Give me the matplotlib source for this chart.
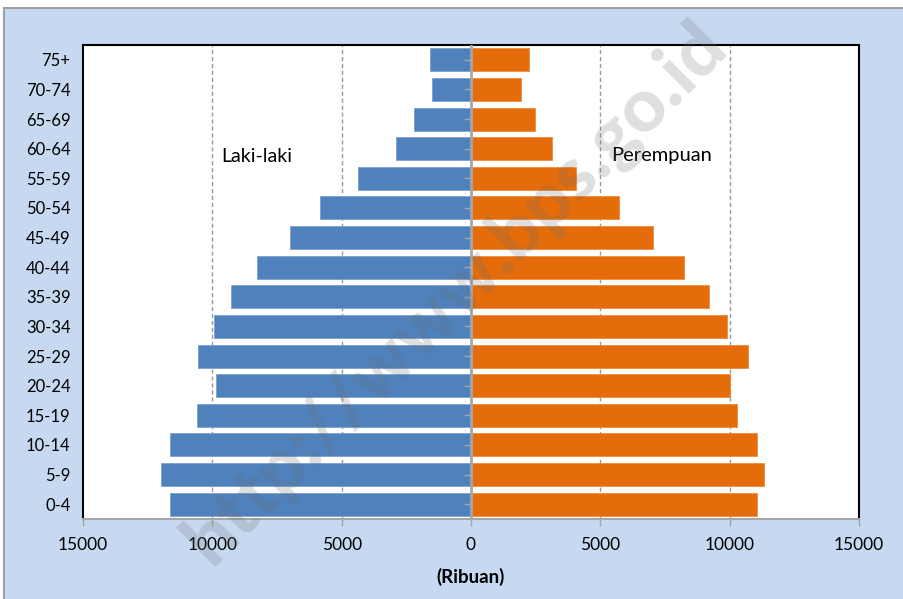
import numpy as np
import matplotlib.pyplot as plt
from matplotlib.patches import Rectangle

plt.rcParams['font.family'] = ['Lato', 'DejaVu Sans']

# kelompok umur, dari bawah ke atas
age_groups = ["0-4", "5-9", "10-14", "15-19", "20-24", "25-29", "30-34", "35-39",
              "40-44", "45-49", "50-54", "55-59", "60-64", "65-69", "70-74", "75+"]
# penduduk (ribuan)
male = [11620, 11970, 11620, 10580, 9840, 10570, 9920, 9290,
        8270, 6990, 5830, 4370, 2890, 2190, 1490, 1570]
female = [11040, 11310, 11040, 10290, 10020, 10700, 9900, 9190,
          8220, 7020, 5710, 4060, 3140, 2490, 1940, 2240]

xticks = [-15000, -10000, -5000, 0, 5000, 10000, 15000]
xtick_labels = ["15000", "10000", "5000", "0", "5000", "10000", "15000"]

fig = plt.figure(figsize=(9.04, 5.99), dpi=100, facecolor="white")
# chart area background with a thin border, like the source screenshot
fig.patches.append(Rectangle((4 / 904, -0.01), 1.0, 1 - 8 / 599 + 0.01,
                             transform=fig.transFigure, facecolor="#c6d9f0",
                             edgecolor="#a0a0a0", linewidth=1.5, zorder=-5))

ax = fig.add_axes([83 / 904, 1 - 519 / 599, 776 / 904, 474 / 599])
ax.set_zorder(1)
ax.set_facecolor("white")

y = np.arange(len(age_groups))
ax.barh(y, -np.array(male), height=0.78, color="#4f81bd",
        edgecolor="#7da0cf", linewidth=0.6, zorder=2)
ax.barh(y, female, height=0.78, color="#e46c0a",
        edgecolor="#f08a3a", linewidth=0.6, zorder=2)

# dashed gridlines and the centre axis
for xv in [-10000, -5000, 5000, 10000]:
    ax.axvline(xv, color="#9a9a9a", linestyle=(0, (3, 2)), linewidth=1, zorder=1)
ax.axvline(0, color="#a6a6a6", linewidth=2, zorder=3)
ax.plot(np.zeros(len(y)), y, linestyle="none", marker=0, markersize=5,
        markeredgecolor="#a6a6a6", markeredgewidth=1, zorder=4)

ax.set_xlim(-15000, 15000)
ax.set_ylim(-0.5, len(age_groups) - 0.5)
ax.set_xticks(xticks)
ax.set_xticklabels(xtick_labels)
ax.set_yticks(y)
ax.set_yticklabels(age_groups)
ax.tick_params(axis="y", length=0, pad=9, labelsize=12)
ax.tick_params(axis="x", length=5, width=1, color="#a6a6a6", pad=8, labelsize=12.5)

for side in ["left", "top", "right"]:
    ax.spines[side].set_color("black")
    ax.spines[side].set_linewidth(1.5)
ax.spines["bottom"].set_color("#a6a6a6")
ax.spines["bottom"].set_linewidth(1.5)

ax.set_xlabel("(Ribuan)", fontsize=13.5, fontweight="bold", labelpad=11)

ax.text(-9640, 11.72, "Laki-laki", fontsize=14, va="center", ha="left", zorder=5)
ax.text(5420, 11.77, "Perempuan", fontsize=14.5, va="center", ha="left", zorder=5)

# watermark
fig.text(0.505, 0.51, "http://www.bps.go.id", fontsize=54, fontweight="black",
         color="#6f6f6f", alpha=0.22, rotation=45, ha="center", va="center",
         zorder=10)

fig.savefig("out.png", dpi=100, facecolor=fig.get_facecolor())
